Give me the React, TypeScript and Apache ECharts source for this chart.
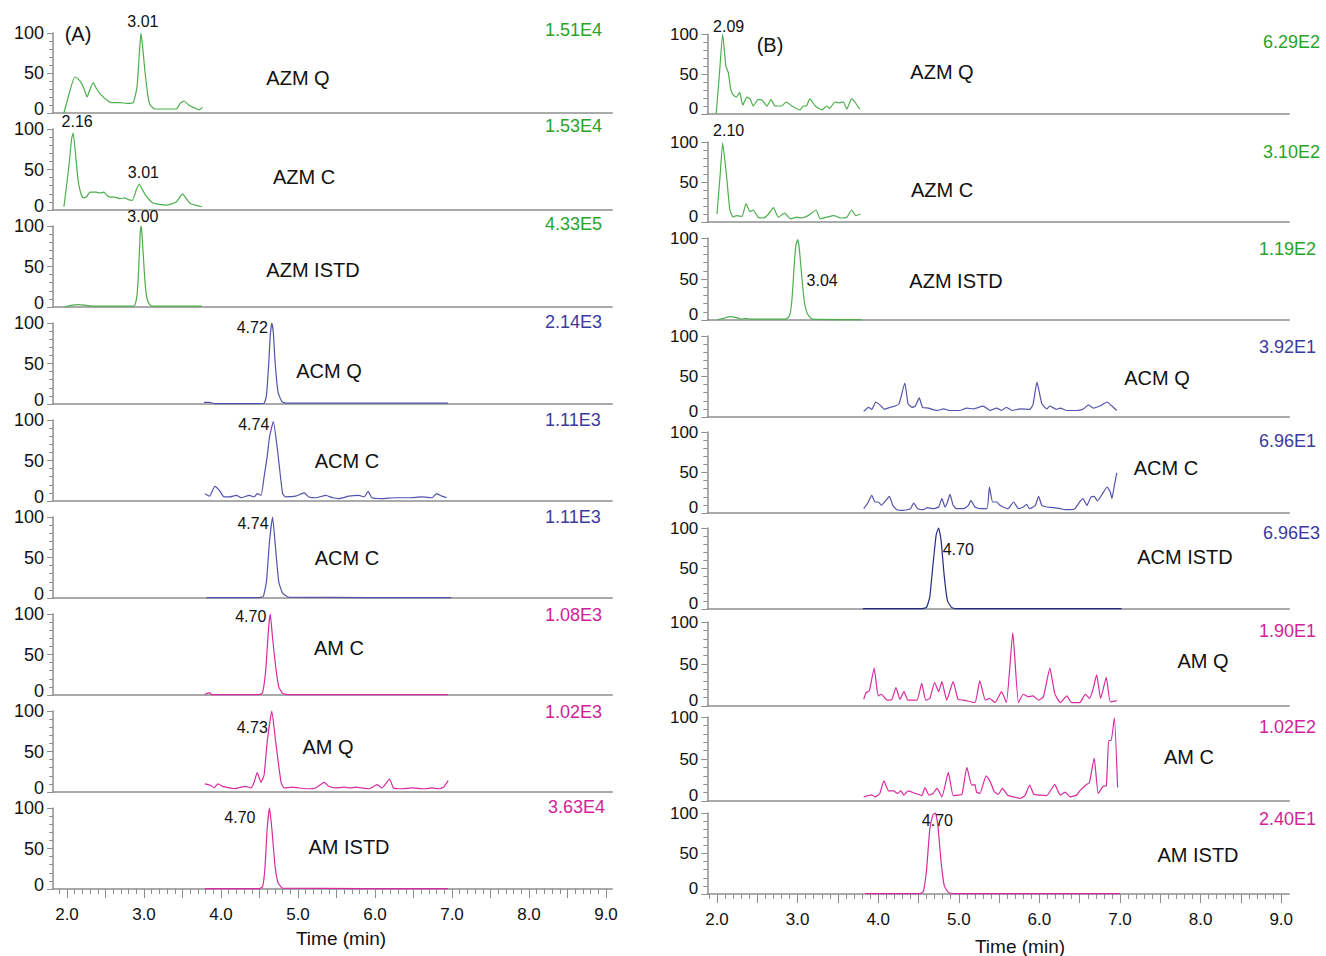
import React, { useEffect, useRef } from 'react';
import * as echarts from 'echarts';

// ---------------- DATA ----------------
// Panel (A) traces: [time (min), relative abundance (%)]
const A_AZM_Q = [[1.96,0],[2.03,25],[2.10,45],[2.14,43],[2.19,37],[2.23,28],[2.26,20],[2.30,30],[2.34,38],[2.38,31],[2.43,24],[2.52,16],[2.58,13],[2.69,13],[2.78,12],[2.86,13],[2.91,33],[2.94,75],[2.96,100],[2.98,85],[3.01,54],[3.05,22],[3.08,10],[3.14,5],[3.42,5],[3.47,12],[3.52,15],[3.58,10],[3.64,7],[3.71,4],[3.76,7]];
const A_AZM_C = [[1.96,4],[2.02,50],[2.06,88],[2.08,95],[2.11,70],[2.14,40],[2.17,24],[2.21,15],[2.25,16],[2.30,22],[2.38,22],[2.43,21],[2.48,22],[2.52,18],[2.56,16],[2.62,16],[2.69,14],[2.75,15],[2.79,13],[2.85,12],[2.90,25],[2.94,32],[2.98,25],[3.03,17],[3.11,9],[3.20,7],[3.29,6],[3.42,10],[3.50,20],[3.55,14],[3.60,8],[3.75,4]];
const A_AZM_ISTD = [[1.97,0],[2.05,2],[2.15,3],[2.25,2],[2.35,1],[2.60,1],[2.85,1],[2.88,2],[2.91,15],[2.93,45],[2.95,90],[2.96,100],[2.97,95],[2.99,65],[3.01,35],[3.03,15],[3.06,5],[3.10,1],[3.75,1]];
const A_ACM_Q = [[3.78,2],[3.85,2],[3.92,0.5],[4.50,0.5],[4.56,1],[4.59,10],[4.62,50],[4.64,85],[4.66,100],[4.68,88],[4.70,55],[4.74,15],[4.79,3],[4.85,1],[6.95,1]];
const A_ACM_C1 = [[3.79,9],[3.85,6],[3.92,18],[3.98,13],[4.04,5],[4.11,5],[4.20,7],[4.26,4],[4.37,7],[4.43,5],[4.47,9],[4.52,7],[4.56,30],[4.60,55],[4.63,79],[4.68,98],[4.73,66],[4.80,9],[4.84,5],[4.97,6],[5.08,10],[5.14,5],[5.23,4],[5.36,7],[5.45,4],[5.53,3],[5.66,6],[5.79,7],[5.86,5],[5.91,12],[5.96,4],[6.09,3],[6.27,4],[6.44,4],[6.61,5],[6.74,4],[6.80,9],[6.87,6],[6.93,4]];
const A_ACM_C2 = [[3.81,0.5],[4.50,0.5],[4.55,2],[4.59,20],[4.63,70],[4.67,100],[4.71,60],[4.75,20],[4.80,6],[4.88,1],[6.99,0.5]];
const A_AM_C = [[3.79,0.5],[3.82,2],[3.85,3],[3.88,0.5],[4.50,0.5],[4.54,3],[4.58,30],[4.62,85],[4.64,100],[4.67,70],[4.71,35],[4.75,10],[4.80,2],[4.86,0.5],[6.95,0.5]];
const A_AM_Q = [[3.79,10],[3.87,8],[3.91,5],[3.96,10],[4.02,7],[4.11,5],[4.17,4],[4.26,6],[4.32,7],[4.39,5],[4.43,12],[4.47,24],[4.52,12],[4.56,21],[4.60,62],[4.66,100],[4.71,62],[4.78,12],[4.82,5],[4.93,6],[5.01,5],[5.12,4],[5.23,5],[5.34,12],[5.40,7],[5.49,5],[5.60,6],[5.68,5],[5.75,6],[5.83,5],[5.92,4],[6.03,9],[6.09,5],[6.19,16],[6.24,5],[6.35,4],[6.48,5],[6.65,4],[6.74,5],[6.83,4],[6.89,6],[6.95,14]];
const A_AM_ISTD = [[3.79,0.5],[4.50,0.5],[4.54,3],[4.57,25],[4.60,75],[4.63,100],[4.66,75],[4.70,30],[4.74,8],[4.80,1],[6.95,0.5]];

// Panel (B) traces
const B_AZM_Q = [[1.99,0],[2.03,50],[2.07,100],[2.11,60],[2.14,52],[2.17,31],[2.20,24],[2.24,21],[2.28,27],[2.32,11],[2.37,21],[2.41,19],[2.45,10],[2.51,18],[2.55,18],[2.62,10],[2.67,18],[2.72,10],[2.80,10],[2.86,15],[2.93,10],[3.03,5],[3.07,10],[3.11,10],[3.15,19],[3.22,10],[3.30,5],[3.36,10],[3.40,7],[3.46,15],[3.51,14],[3.57,15],[3.61,6],[3.67,19],[3.71,15],[3.77,6]];
const B_AZM_C = [[2.00,10],[2.04,60],[2.07,99],[2.12,56],[2.16,15],[2.20,6],[2.24,8],[2.31,7],[2.36,23],[2.41,13],[2.45,15],[2.51,6],[2.58,5],[2.64,10],[2.70,18],[2.76,6],[2.84,11],[2.91,4],[2.99,6],[3.05,5],[3.13,8],[3.23,15],[3.28,4],[3.36,6],[3.45,8],[3.53,5],[3.61,6],[3.67,15],[3.72,8],[3.78,10]];
const B_AZM_ISTD = [[2.00,0],[2.08,2],[2.16,4],[2.24,3],[2.30,1],[2.36,2],[2.40,1],[2.85,1],[2.90,5],[2.93,25],[2.96,70],[2.98,92],[3.00,98],[3.02,88],[3.05,55],[3.08,25],[3.12,8],[3.18,1],[3.79,0.5]];
const B_ACM_Q = [[3.82,7],[3.88,12],[3.92,9.5],[3.97,18.5],[4.02,15],[4.08,9.5],[4.15,12],[4.21,13.5],[4.26,16.5],[4.33,42],[4.37,16.5],[4.42,12],[4.46,13.5],[4.51,23.5],[4.55,12],[4.62,11],[4.73,8],[4.81,10],[4.89,8],[5.01,8],[5.10,11],[5.18,10],[5.30,13.5],[5.39,8],[5.47,11],[5.53,8],[5.59,12],[5.66,8],[5.76,10],[5.88,9.5],[5.92,15],[5.97,43],[6.03,16.5],[6.09,10],[6.13,13.5],[6.21,9.5],[6.26,11],[6.34,8],[6.46,8],[6.54,9.5],[6.61,15],[6.67,11],[6.75,13.5],[6.84,18.5],[6.90,13.5],[6.96,8]];
const B_ACM_C = [[3.82,5.3],[3.87,12.3],[3.92,21.8],[3.96,13.6],[4.00,13.6],[4.04,9.5],[4.08,13.6],[4.14,20.6],[4.18,9.5],[4.23,4.1],[4.31,3.3],[4.40,5.3],[4.44,12.3],[4.49,5.3],[4.56,4.1],[4.61,6.6],[4.68,5.3],[4.75,7.4],[4.79,17.7],[4.83,7.4],[4.86,13.6],[4.89,23],[4.93,9.5],[4.97,5.3],[5.06,5.3],[5.12,9.5],[5.15,15.6],[5.20,7.4],[5.26,5.3],[5.35,5.3],[5.38,32.1],[5.42,13.6],[5.47,13.6],[5.51,9.5],[5.55,7.4],[5.61,5.3],[5.68,13.6],[5.74,5.3],[5.80,7.4],[5.84,10.7],[5.88,5.3],[5.95,9.5],[5.99,20.6],[6.03,9.5],[6.09,7.4],[6.17,6.6],[6.26,5.3],[6.32,4.1],[6.38,4.1],[6.44,5.3],[6.50,13.6],[6.54,17.7],[6.59,9.5],[6.64,19.8],[6.68,20.6],[6.72,14.8],[6.77,21.8],[6.84,32.1],[6.88,25.9],[6.90,17.7],[6.93,34.2],[6.96,49.4]];
const B_ACM_ISTD = [[3.81,0.5],[4.55,0.5],[4.60,2],[4.64,15],[4.68,55],[4.72,92],[4.75,100],[4.78,85],[4.82,40],[4.86,10],[4.91,2],[4.96,0.5],[7.02,0.5]];
const B_AM_Q = [[3.82,8],[3.85,16],[3.89,18],[3.95,45],[4.00,12],[4.04,14],[4.11,7],[4.17,8],[4.22,22],[4.27,8],[4.32,17],[4.37,7],[4.48,7],[4.54,27],[4.59,7],[4.64,9],[4.70,28],[4.75,17],[4.79,29],[4.85,7],[4.93,29],[4.99,8],[5.06,7],[5.20,4],[5.26,30],[5.33,7],[5.38,9],[5.45,4],[5.53,17],[5.59,4],[5.67,87],[5.74,4],[5.80,14],[5.86,11],[5.92,12],[5.99,7],[6.05,11],[6.13,45],[6.19,15],[6.26,4],[6.34,12],[6.40,4],[6.50,4],[6.57,14],[6.62,9],[6.66,18],[6.71,37],[6.76,9],[6.83,34],[6.88,5],[6.96,6]];
const B_AM_C = [[3.82,5],[3.88,6.5],[3.92,7.3],[3.96,5],[4.02,9],[4.07,24],[4.13,12],[4.19,12],[4.24,9],[4.28,12],[4.32,7],[4.37,12],[4.46,9],[4.54,6.5],[4.58,16],[4.63,7],[4.68,9],[4.73,15],[4.79,5],[4.87,34],[4.93,6.5],[4.99,7],[5.04,8],[5.10,40],[5.16,19],[5.20,19.5],[5.22,10.6],[5.26,9],[5.34,30],[5.39,23],[5.44,11],[5.49,8],[5.54,15],[5.61,6.5],[5.68,5],[5.76,3],[5.82,6.5],[5.88,19],[5.93,8],[6.01,7],[6.09,6.5],[6.19,19.5],[6.26,7],[6.32,10.6],[6.38,5],[6.46,7],[6.51,13],[6.59,20],[6.62,21.5],[6.68,51],[6.73,9],[6.79,17.5],[6.83,18],[6.86,72],[6.89,72],[6.93,99],[6.97,16]];
const B_AM_ISTD = [[3.84,0.5],[4.52,0.5],[4.56,3],[4.60,30],[4.64,80],[4.68,98],[4.71,100],[4.74,85],[4.78,40],[4.82,10],[4.87,2],[4.92,0.5],[7.00,0.5]];

const A_NAMES = ['AZM Q','AZM C','AZM ISTD','ACM Q','ACM C','ACM C','AM C','AM Q','AM ISTD'];
const B_NAMES = ['AZM Q','AZM C','AZM ISTD','ACM Q','ACM C','ACM ISTD','AM Q','AM C','AM ISTD'];
const A_INTENS = ['1.51E4','1.53E4','4.33E5','2.14E3','1.11E3','1.11E3','1.08E3','1.02E3','3.63E4'];
const B_INTENS = ['6.29E2','3.10E2','1.19E2','3.92E1','6.96E1','6.96E3','1.90E1','1.02E2','2.40E1'];
const A_GROUPS = ['AZM','AZM','AZM','ACM','ACM','ACM','AM','AM','AM'];
const B_GROUPS = ['AZM','AZM','AZM','ACM','ACM','ACMD','AM','AM','AM'];
// peak annotations: [row, time, abundance, label]
const A_PEAKS = [[0,2.96,100,'3.01'],[1,2.08,95,'2.16'],[1,2.94,32,'3.01'],[2,2.96,100,'3.00'],[3,4.66,100,'4.72'],[4,4.68,98,'4.74'],[5,4.67,100,'4.74'],[6,4.64,100,'4.70'],[7,4.66,100,'4.73'],[8,4.63,100,'4.70']];
const B_PEAKS = [[0,2.07,100,'2.09'],[1,2.07,99,'2.10'],[2,3.00,98,'3.04'],[5,4.75,100,'4.70'],[8,4.71,100,'4.70']];
const X_TICK_LABELS = ['2.0','3.0','4.0','5.0','6.0','7.0','8.0','9.0'];

// ---------------- STYLE / LAYOUT ----------------
const FONT = '"Liberation Sans", Arial, Helvetica, sans-serif';
const AXIS = '#8e8e8e';
const LINE_COLORS: Record<string, string> = { AZM: '#4caf4c', ACM: '#5353ad', ACMD: '#232c80', AM: '#d82aa0' };
const TEXT_COLORS: Record<string, string> = { AZM: '#28a428', ACM: '#3a3aa0', ACMD: '#3a3aa0', AM: '#d21e9a' };

const PANELS = [
  {
    traces: [A_AZM_Q, A_AZM_C, A_AZM_ISTD, A_ACM_Q, A_ACM_C1, A_ACM_C2, A_AM_C, A_AM_Q, A_AM_ISTD],
    names: A_NAMES, intens: A_INTENS, groups: A_GROUPS, peaks: A_PEAKS,
    x0: 67, ppm: 77, xMin: 1.82, xMax: 9.08, yFont: 18, yLine: 8,
    tops: [33, 129, 226, 323, 420, 517, 614, 711, 808],
    bottoms: [113, 210, 307, 404, 501, 598, 695, 792, 889],
    nameCenters: [[298,78],[304,177],[313,270],[329,371],[347,461],[347,558],[339,648],[328,747],[349,847]],
    intensPos: [[545,30],[545,126],[545,224],[545,322],[545,420],[545,517],[545,615],[545,712],[548,807]],
    peakLabel: [['top',[2,0]],['top',[4,0]],['top',[4,0]],['top',[2,2]],['left',[0,4]],['left',[0,3]],['left',[0,6]],['left',[0,2]],['left',[0,16]],['left',[-10,9]]],
    tag: '(A)', tagPos: [78, 34], titlePos: [341, 938],
  },
  {
    traces: [B_AZM_Q, B_AZM_C, B_AZM_ISTD, B_ACM_Q, B_ACM_C, B_ACM_ISTD, B_AM_Q, B_AM_C, B_AM_ISTD],
    names: B_NAMES, intens: B_INTENS, groups: B_GROUPS, peaks: B_PEAKS,
    x0: 717, ppm: 80.6, xMin: 1.88, xMax: 9.1, yFont: 17, yLine: 12,
    tops: [34, 142, 238, 336, 432, 528, 622, 717, 813],
    bottoms: [114, 222, 320, 417, 513, 609, 706, 801, 894],
    nameCenters: [[942,72],[942,190],[956,281],[1157,378],[1166,468],[1185,557],[1203,661],[1189,757],[1198,855]],
    intensPos: [[1263,42],[1263,152],[1259,249],[1259,347],[1259,441],[1263,533],[1259,631],[1259,727],[1259,819]],
    peakLabel: [['top',[6,4]],['top',[6,0]],['right',[5,41]],['right',[0,21]],['inside',[2,7]]],
    tag: '(B)', tagPos: [770, 45], titlePos: [1020, 946],
  },
];

function buildOption() {
  const grid: any[] = [];
  const xAxis: any[] = [];
  const yAxis: any[] = [];
  const series: any[] = [];
  const graphic: any[] = [];
  const axisLineStyle = { color: AXIS, width: 1.5 };

  const text = (x: number, y: number, t: string, size: number, fill: string, align = 'center') => ({
    type: 'text', x, y, silent: true,
    style: { text: t, fill, fontSize: size, fontFamily: FONT, align, verticalAlign: 'middle', textAlign: align, textVerticalAlign: 'middle' },
  });

  PANELS.forEach((p) => {
    const gLeft = p.x0 + (p.xMin - 2) * p.ppm;
    const gWidth = (p.xMax - p.xMin) * p.ppm;
    p.traces.forEach((trace, ri) => {
      const gi = grid.length;
      grid.push({ left: gLeft, top: p.tops[ri], width: gWidth, height: p.bottoms[ri] - p.tops[ri] });
      xAxis.push({
        type: 'value', gridIndex: gi, min: p.xMin, max: p.xMax,
        axisLine: { show: true, onZero: false, lineStyle: axisLineStyle },
        axisTick: { show: false }, axisLabel: { show: false }, splitLine: { show: false },
      });
      const yi = yAxis.length;
      yAxis.push({
        type: 'value', gridIndex: gi, position: 'left', min: 0, max: 100, interval: 10,
        axisLine: { show: true, lineStyle: axisLineStyle },
        axisTick: { show: true, length: 4, lineStyle: { color: AXIS, width: 1 } },
        axisLabel: { show: false }, splitLine: { show: false },
      });
      yAxis.push({
        type: 'value', gridIndex: gi, position: 'left', offset: 0, min: 0, max: 100, interval: 50,
        axisLine: { show: false },
        axisTick: { show: true, length: 6, lineStyle: { color: AXIS, width: 1 } },
        axisLabel: {
          show: true, fontSize: p.yFont, lineHeight: p.yLine, fontFamily: FONT, color: '#111', margin: 9,
          verticalAlignMinLabel: 'bottom',
        },
        splitLine: { show: false },
      });
      const grp = p.groups[ri];
      const peaks = p.peaks
        .map((pk, k) => ({ pk, k }))
        .filter(({ pk }) => pk[0] === ri)
        .map(({ pk, k }) => {
          const [pos, off] = p.peakLabel[k] as any;
          return {
            coord: [pk[1], pk[2]],
            symbolSize: 0,
            label: { show: true, formatter: pk[3], position: pos, offset: off, distance: 4, color: '#111', fontSize: 16, fontFamily: FONT },
          };
        });
      series.push({
        type: 'line', xAxisIndex: gi, yAxisIndex: yi, data: trace,
        showSymbol: false, smooth: 0.15, clip: false,
        lineStyle: { color: LINE_COLORS[grp], width: 1.2 },
        itemStyle: { color: LINE_COLORS[grp] },
        markPoint: peaks.length ? { symbol: 'circle', symbolSize: 0, silent: true, data: peaks } : undefined,
      });
      graphic.push(text(p.nameCenters[ri][0], p.nameCenters[ri][1], p.names[ri], 20, '#111'));
      graphic.push(text(p.intensPos[ri][0], p.intensPos[ri][1], p.intens[ri], 18, TEXT_COLORS[grp], 'left'));
    });

    // bottom axis ticks and labels (overlay grids)
    const bottom = p.bottoms[p.bottoms.length - 1];
    const minorMin = 1.9, minorMax = 9.0;
    let gi = grid.length;
    grid.push({ left: p.x0 + (minorMin - 2) * p.ppm, top: bottom - 10, width: (minorMax - minorMin) * p.ppm, height: 10 });
    xAxis.push({
      type: 'value', gridIndex: gi, min: minorMin, max: minorMax, interval: 0.1,
      axisLine: { show: false }, axisTick: { show: true, length: 5, lineStyle: { color: AXIS, width: 1 } },
      axisLabel: { show: false }, splitLine: { show: false },
    });
    yAxis.push({ type: 'value', gridIndex: gi, show: false, min: 0, max: 1 });
    gi = grid.length;
    grid.push({ left: p.x0, top: bottom - 10, width: 7 * p.ppm, height: 10 });
    xAxis.push({
      type: 'value', gridIndex: gi, min: 2, max: 9, interval: 0.5,
      axisLine: { show: false }, axisTick: { show: true, length: 9, lineStyle: { color: AXIS, width: 1 } },
      axisLabel: {
        show: true, fontSize: 17, fontFamily: FONT, color: '#111', margin: 17,
        formatter: (v: number) => {
          const r = Math.round(v);
          return Math.abs(v - r) < 1e-6 ? X_TICK_LABELS[r - 2] : '';
        },
      },
      splitLine: { show: false },
    });
    yAxis.push({ type: 'value', gridIndex: gi, show: false, min: 0, max: 1 });

    graphic.push(text(p.tagPos[0], p.tagPos[1], p.tag, 20, '#111'));
    graphic.push(text(p.titlePos[0], p.titlePos[1], 'Time (min)', 19, '#111'));
  });

  return {
    animation: false,
    backgroundColor: '#ffffff',
    textStyle: { fontFamily: FONT },
    grid, xAxis, yAxis, series, graphic,
  };
}

export default function App() {
  const ref = useRef<HTMLDivElement>(null);
  useEffect(() => {
    if (!ref.current) return;
    const chart = echarts.init(ref.current, undefined, { renderer: 'svg' });
    chart.setOption(buildOption() as any);
    return () => chart.dispose();
  }, []);
  return (
    <div
      ref={ref}
      style={{ position: 'fixed', left: 0, top: 0, width: 1326, height: 956, background: '#fff' }}
    />
  );
}
